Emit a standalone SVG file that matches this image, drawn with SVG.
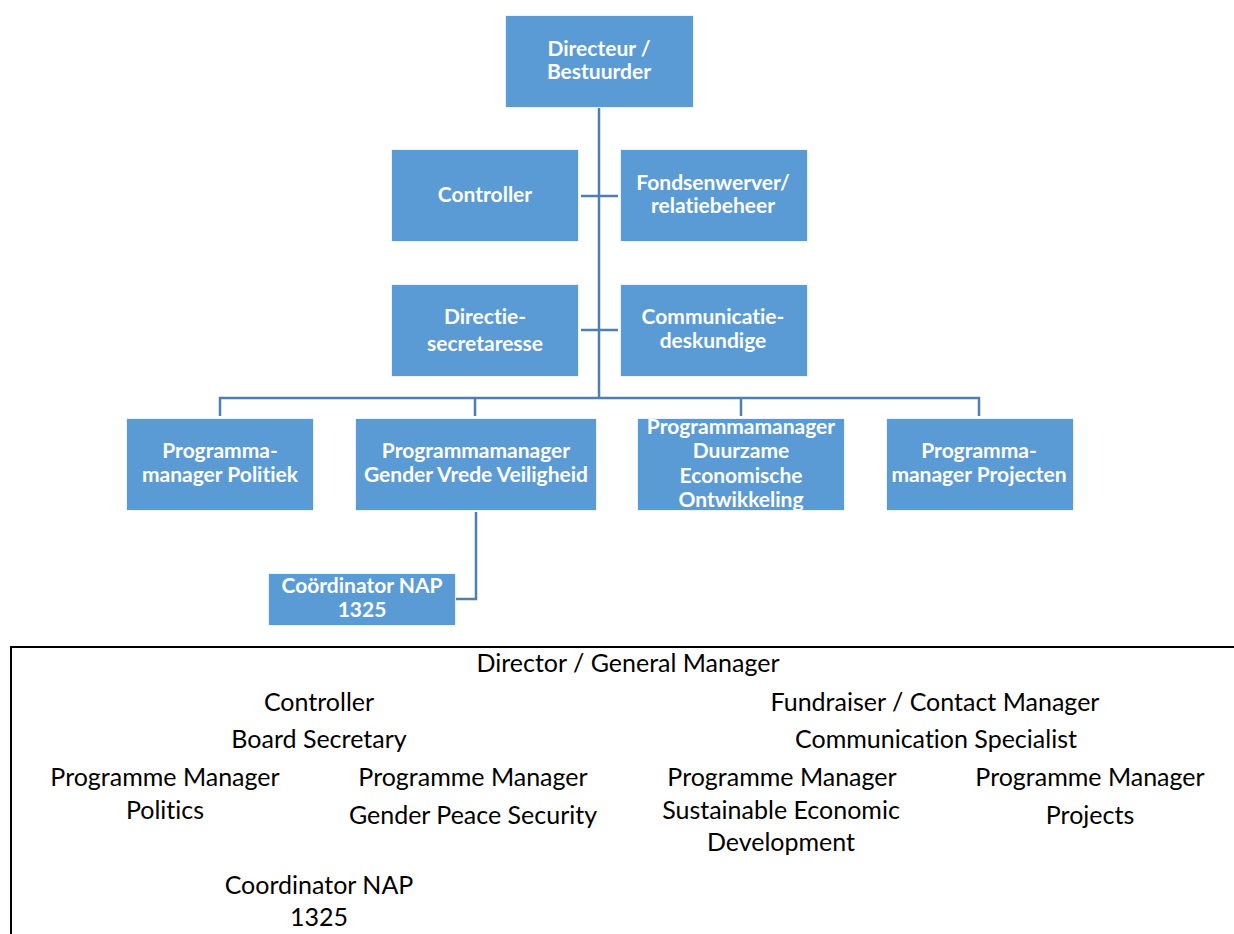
<svg xmlns="http://www.w3.org/2000/svg" width="1234" height="934" viewBox="0 0 1234 934">
<style>
.box{fill:#5B9BD5;stroke:#EAF2FB;stroke-width:1}
.bt{font-family:Lato,"Liberation Sans",sans-serif;font-weight:bold;font-size:21px;fill:#FFFFFF;text-anchor:middle;font-variant-ligatures:none}
.ln{fill:none;stroke:#4E7FB0;stroke-width:2.5}
.tx{font-family:Lato,"Liberation Sans",sans-serif;font-size:25px;fill:#000000;text-anchor:middle;font-variant-ligatures:none}
</style>
<defs>
<clipPath id="c3"><rect x="637" y="418" width="207" height="93"/></clipPath>
</defs>
<rect width="1234" height="934" fill="#FFFFFF"/>
<g id="connectors">
<path class="ln" d="M599,108 V398"/>
<path class="ln" d="M581,196 H618"/>
<path class="ln" d="M581,330 H618"/>
<path class="ln" d="M220,416 V398 H979 V416"/>
<path class="ln" d="M475,398 V416"/>
<path class="ln" d="M741,398 V416"/>
<path class="ln" d="M476,512 V599 H456"/>
</g>
<g id="n-directeur"><rect class="box" x="505.5" y="15.5" width="188" height="92"/>
<text class="bt" x="599" y="56">Directeur /</text><text class="bt" x="599" y="79">Bestuurder</text></g>
<g id="n-controller"><rect class="box" x="391.5" y="149.5" width="187" height="92"/>
<text class="bt" x="485" y="202">Controller</text></g>
<g id="n-fondsenwerver"><rect class="box" x="620.5" y="149.5" width="187" height="92"/>
<text class="bt" x="713" y="190">Fondsenwerver/</text><text class="bt" x="713" y="213">relatiebeheer</text></g>
<g id="n-directie"><rect class="box" x="391.5" y="284.5" width="187" height="92"/>
<text class="bt" x="485" y="324">Directie-</text><text class="bt" x="485" y="351">secretaresse</text></g>
<g id="n-communicatie"><rect class="box" x="620.5" y="284.5" width="187" height="92"/>
<text class="bt" x="713" y="324">Communicatie-</text><text class="bt" x="713" y="348">deskundige</text></g>
<g id="n-politiek"><rect class="box" x="126.5" y="418.5" width="187" height="92"/>
<text class="bt" x="220" y="458">Programma-</text><text class="bt" x="220" y="482">manager Politiek</text></g>
<g id="n-gender"><rect class="box" x="355.5" y="418.5" width="241" height="92"/>
<text class="bt" x="476" y="458">Programmamanager</text><text class="bt" x="476" y="482">Gender Vrede Veiligheid</text></g>
<g id="n-duurzame"><rect class="box" x="637.5" y="418.5" width="207" height="92"/>
<g clip-path="url(#c3)">
<text class="bt" x="741" y="434">Programmamanager</text><text class="bt" x="741" y="458">Duurzame</text><text class="bt" x="741" y="483">Economische</text><text class="bt" x="741" y="507">Ontwikkeling</text></g></g>
<g id="n-projecten"><rect class="box" x="886.5" y="418.5" width="187" height="92"/>
<text class="bt" x="979" y="458">Programma-</text><text class="bt" x="979" y="482">manager Projecten</text></g>
<g id="n-coordinator"><rect class="box" x="268.5" y="573.5" width="187" height="52"/>
<text class="bt" x="362" y="593">Coördinator NAP</text><text class="bt" x="362" y="617">1325</text></g>
<g id="translation">
<path d="M11,934 V647 H1234" fill="none" stroke="#000000" stroke-width="2"/>
<text class="tx" x="628" y="672">Director / General Manager</text>
<text class="tx" x="319" y="711">Controller</text>
<text class="tx" x="935" y="711">Fundraiser / Contact Manager</text>
<text class="tx" x="319" y="748">Board Secretary</text>
<text class="tx" x="936" y="748">Communication Specialist</text>
<text class="tx" x="165" y="786">Programme Manager</text>
<text class="tx" x="165" y="819">Politics</text>
<text class="tx" x="473" y="786">Programme Manager</text>
<text class="tx" x="473" y="824">Gender Peace Security</text>
<text class="tx" x="782" y="786">Programme Manager</text>
<text class="tx" x="781" y="819">Sustainable Economic</text>
<text class="tx" x="781" y="851">Development</text>
<text class="tx" x="1090" y="786">Programme Manager</text>
<text class="tx" x="1090" y="824">Projects</text>
<text class="tx" x="319" y="894">Coordinator NAP</text>
<text class="tx" x="319" y="926">1325</text>
</g>
</svg>
